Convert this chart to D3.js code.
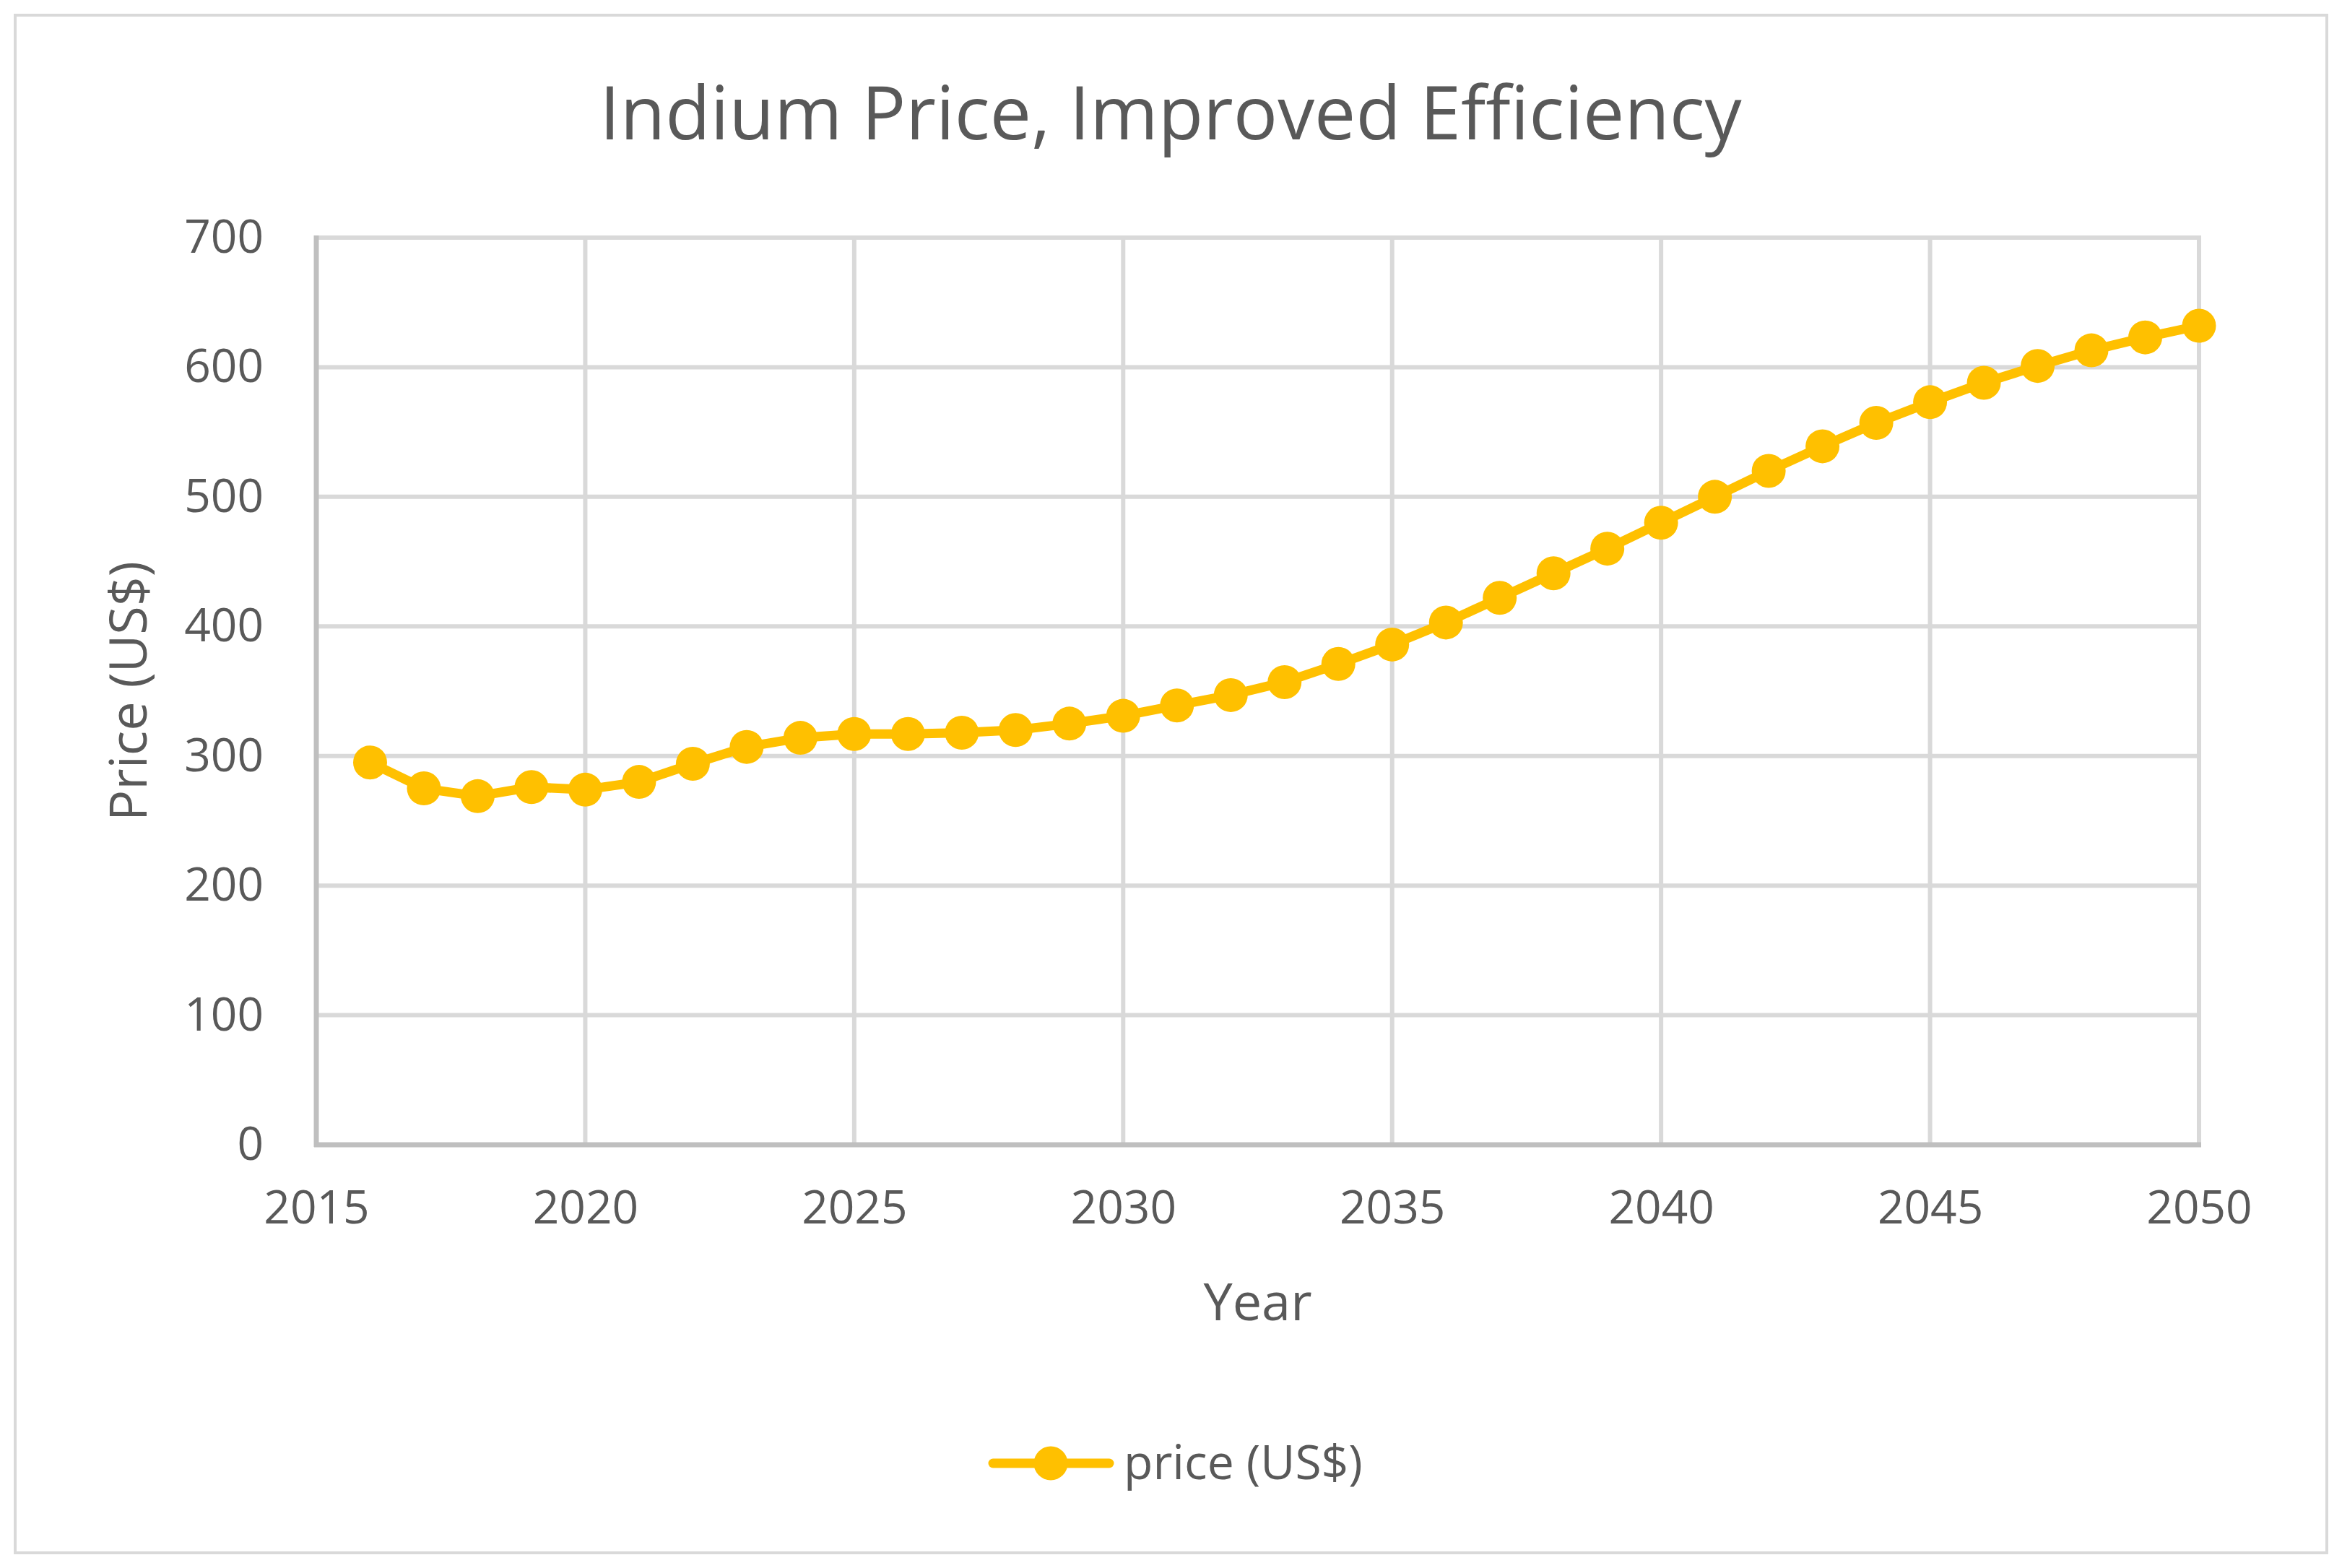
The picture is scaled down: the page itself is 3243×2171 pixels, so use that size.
<!DOCTYPE html>
<html>
<head>
<meta charset="utf-8">
<script src="https://cdn.jsdelivr.net/npm/d3@7"></script>
<style>
  html, body { margin: 0; padding: 0; background: #fff; }
  svg { display: block; font-family: "Open Sans", "Noto Sans", sans-serif; }
</style>
</head>
<body>
<svg id="chart" width="3243" height="2171"></svg>
<script>
const years = [2016,2017,2018,2019,2020,2021,2022,2023,2024,2025,2026,2027,2028,2029,2030,2031,2032,2033,2034,2035,2036,2037,2038,2039,2040,2041,2042,2043,2044,2045,2046,2047,2048,2049,2050];
const prices = [295,275,269,276,274,280,294,307,314,317,317,318,320,325,331,339,347,357,371,386,403,422,441,460,480,500,520,539,557,573,588,601,613,623,632];
const xTicks = [2015,2020,2025,2030,2035,2040,2045,2050];
const yTicks = [0,100,200,300,400,500,600,700];
const titleText = "Indium Price, Improved Efficiency";
const xTitle = "Year";
const yTitle = "Price (US$)";
const seriesName = "price (US$)";

const W = 3243, H = 2171;
const plot = {left: 438, right: 3045, top: 329, bottom: 1585};
const textColor = "#595959";
const gridColor = "#d9d9d9";
const axisColor = "#bfbfbf";
const lineColor = "#FFC000";

const svg = d3.select("#chart");
svg.append("rect").attr("x", 0).attr("y", 0).attr("width", W).attr("height", H).attr("fill", "#fff");
svg.append("rect").attr("x", 21).attr("y", 21).attr("width", 3201).attr("height", 2129)
  .attr("fill", "none").attr("stroke", gridColor).attr("stroke-width", 4);

const x = d3.scaleLinear().domain([2015, 2050]).range([plot.left, plot.right]);
const y = d3.scaleLinear().domain([0, 700]).range([plot.bottom, plot.top]);

// gridlines
const grid = svg.append("g");
grid.selectAll("line.h").data(yTicks.filter(d => d > 0)).join("line")
  .attr("x1", plot.left).attr("x2", plot.right)
  .attr("y1", d => y(d)).attr("y2", d => y(d))
  .attr("stroke", gridColor).attr("stroke-width", 6);
grid.selectAll("line.v").data(xTicks.filter(d => d > 2015)).join("line")
  .attr("x1", d => x(d)).attr("x2", d => x(d))
  .attr("y1", plot.top - 3).attr("y2", plot.bottom)
  .attr("stroke", gridColor).attr("stroke-width", 6);

// axes lines
svg.append("line").attr("x1", plot.left).attr("x2", plot.left).attr("y1", plot.top - 3).attr("y2", plot.bottom + 3)
  .attr("stroke", axisColor).attr("stroke-width", 7);
svg.append("line").attr("x1", plot.left - 3).attr("x2", plot.right + 3).attr("y1", plot.bottom).attr("y2", plot.bottom)
  .attr("stroke", axisColor).attr("stroke-width", 7);

// axis labels through d3 axes
const xAxis = d3.axisBottom(x).tickValues(xTicks).tickFormat(d3.format("d")).tickSize(0).tickPadding(64);
const gx = svg.append("g").attr("transform", `translate(0,${plot.bottom})`).call(xAxis);
gx.select(".domain").remove();
gx.selectAll("text").attr("fill", textColor).attr("font-size", 64).attr("font-family", "'Open Sans', sans-serif");

const yAxis = d3.axisLeft(y).tickValues(yTicks).tickFormat(d3.format("d")).tickSize(0).tickPadding(73);
const gy = svg.append("g").attr("transform", `translate(${plot.left},0)`).call(yAxis);
gy.select(".domain").remove();
gy.selectAll("text").attr("fill", textColor).attr("font-size", 64).attr("font-family", "'Open Sans', sans-serif");

// line series
const line = d3.line().x((d, i) => x(years[i])).y(d => y(d));
svg.append("path").datum(prices).attr("d", line)
  .attr("fill", "none").attr("stroke", lineColor).attr("stroke-width", 13)
  .attr("stroke-linejoin", "round").attr("stroke-linecap", "round");
svg.append("g").selectAll("circle").data(prices).join("circle")
  .attr("cx", (d, i) => x(years[i])).attr("cy", d => y(d)).attr("r", 23.5)
  .attr("fill", lineColor);

// titles
svg.append("text").attr("x", 1621).attr("y", 193).attr("text-anchor", "middle")
  .attr("font-size", 102).attr("fill", textColor).text(titleText);
svg.append("text").attr("x", (plot.left + plot.right) / 2).attr("y", 1828).attr("text-anchor", "middle")
  .attr("font-size", 72).attr("fill", textColor).text(xTitle);
svg.append("text").attr("transform", `translate(203,${(plot.top + plot.bottom) / 2}) rotate(-90)`)
  .attr("text-anchor", "middle").attr("font-size", 72).attr("fill", textColor).text(yTitle);

// legend
const lg = svg.append("g");
lg.append("line").attr("x1", 1375).attr("x2", 1536).attr("y1", 2026).attr("y2", 2026)
  .attr("stroke", lineColor).attr("stroke-width", 13).attr("stroke-linecap", "round");
lg.append("circle").attr("cx", 1455).attr("cy", 2026).attr("r", 23.5).attr("fill", lineColor);
lg.append("text").attr("x", 1556).attr("y", 2048).attr("font-size", 66).attr("fill", textColor).text(seriesName);
</script>
</body>
</html>
